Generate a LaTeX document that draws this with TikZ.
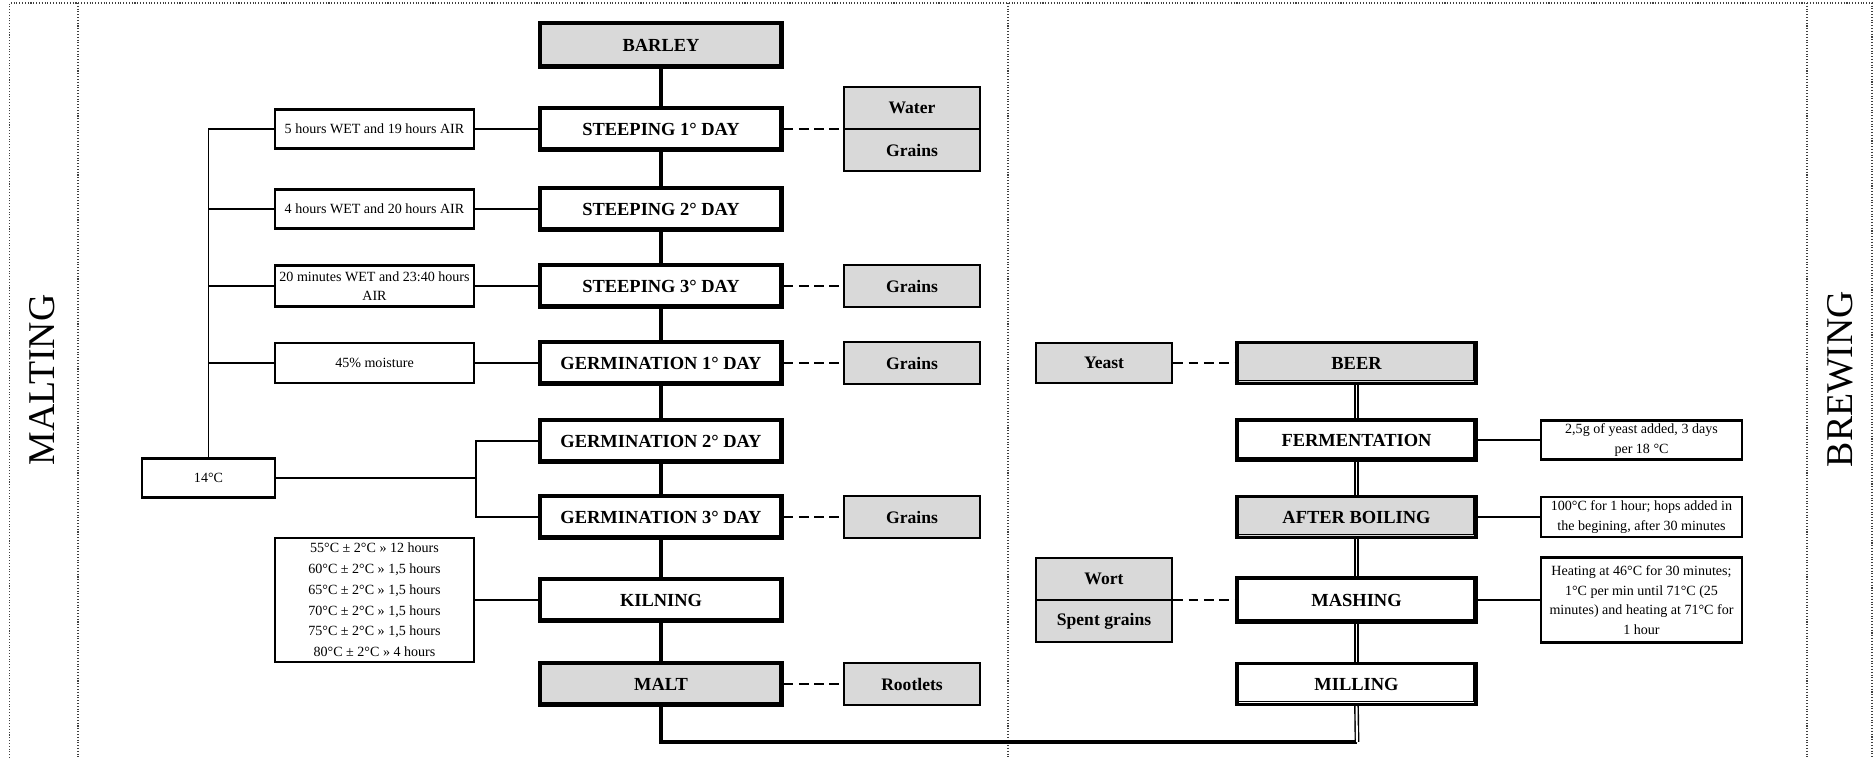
\documentclass[tikz,border=0pt]{standalone}
\usepackage{fontspec}
\setmainfont{Liberation Serif}
\newcommand{\pxu}{0.02cm}
\newcommand{\mainf}{\fontsize{10.5}{12}\selectfont\bfseries}
\newcommand{\sidef}{\fontsize{10}{12}\selectfont\bfseries}
\newcommand{\annf}{\fontsize{8}{11.2}\selectfont}
\newcommand{\kilnf}{\fontsize{8}{11.8}\selectfont}
\newcommand{\bigf}{\fontsize{21.5}{24}\selectfont}
\definecolor{boxgray}{RGB}{217,217,217}
\tikzset{
  frameline/.style={densely dotted, line width=0.6pt, black!75},
  mainbox/.style={draw, line width=1.8pt, minimum width=242*\pxu, minimum height=42*\pxu,
    inner sep=1pt, font=\mainf,
    path picture={\draw[line width=0.5pt]
      ([xshift=-3*\pxu]path picture bounding box.north east) --
      ([xshift=-3*\pxu,yshift=3*\pxu]path picture bounding box.south east) --
      ([yshift=3*\pxu]path picture bounding box.south west);}},
  graymain/.style={mainbox, fill=boxgray},
  sidebox/.style={draw, line width=1.6pt, fill=boxgray, minimum width=136*\pxu,
    minimum height=42*\pxu, inner sep=1pt, font=\sidef},
  annbox/.style={draw, line width=1.6pt, minimum width=199*\pxu, minimum height=39*\pxu,
    inner sep=1pt, align=center, font=\annf},
  rannbox/.style={annbox, minimum width=201*\pxu},
  thickconn/.style={line width=2.2pt},
  thinconn/.style={line width=1pt},
  dashconn/.style={line width=1.3pt, dash pattern=on 5.5pt off 3.2pt},
  dblconn/.style={double, line width=0.8pt, double distance=1.1pt},
  biglabel/.style={rotate=90, font=\bigf, inner sep=0pt}
}
\begin{document}
\begin{tikzpicture}[x=0.02cm, y=-0.02cm]
\useasboundingbox (0,0) rectangle (1874,758);
% frame
\draw[frameline] (9.6,758) -- (9.6,3) -- (1872,3) -- (1872,758);
\draw[frameline] (78,3) -- (78,758);
\draw[frameline] (1008,3) -- (1008,758);
\draw[frameline] (1807,3) -- (1807,758);
\node[biglabel] (malting) at (42,380) {MALTING};
\node[biglabel] (brewing) at (1840,379) {BREWING};

% malting column
\node[graymain, minimum height=44*\pxu] (barley) at (661,45) {BARLEY};
\node[mainbox] (st1) at (661,129) {STEEPING 1° DAY};
\node[mainbox] (st2) at (661,209) {STEEPING 2° DAY};
\node[mainbox] (st3) at (661,286) {STEEPING 3° DAY};
\node[mainbox] (g1) at (661,363) {GERMINATION 1° DAY};
\node[mainbox] (g2) at (661,441) {GERMINATION 2° DAY};
\node[mainbox] (g3) at (661,517) {GERMINATION 3° DAY};
\node[mainbox] (kil) at (661,600) {KILNING};
\node[graymain] (malt) at (661,684) {MALT};

% side products
\node[sidebox] (water) at (912,108) {Water};
\node[sidebox] (grains1) at (912,150) {Grains};
\node[sidebox] (grains3) at (912,286) {Grains};
\node[sidebox] (grains4) at (912,363) {Grains};
\node[sidebox] (grains5) at (912,517) {Grains};
\node[sidebox] (rootlets) at (912,684) {Rootlets};

% left annotations
\node[annbox] (a1) at (374.5,129) {5 hours WET and 19 hours AIR};
\node[annbox] (a2) at (374.5,209) {4 hours WET and 20 hours AIR};
\node[annbox, minimum height=41*\pxu] (a3) at (374.5,286) {20 minutes WET and 23:40 hours\\AIR};
\node[annbox, minimum height=40*\pxu] (a4) at (374.5,363) {45\% moisture};
\node[annbox, minimum width=133*\pxu] (t14) at (208.5,478) {14°C};
\node[annbox, minimum height=124*\pxu, font=\kilnf] (kiln) at (374.5,600)
  {55°C ± 2°C » 12 hours\\60°C ± 2°C » 1,5 hours\\65°C ± 2°C » 1,5 hours\\70°C ± 2°C » 1,5 hours\\75°C ± 2°C » 1,5 hours\\80°C ± 2°C » 4 hours};

% brewing column
\node[graymain, minimum width=239*\pxu, minimum height=41*\pxu] (beer) at (1356.5,363) {BEER};
\node[mainbox, minimum width=239*\pxu, minimum height=40*\pxu] (ferm) at (1356.5,440) {FERMENTATION};
\node[graymain, minimum width=239*\pxu, minimum height=41*\pxu] (boil) at (1356.5,517) {AFTER BOILING};
\node[mainbox, minimum width=239*\pxu, minimum height=44*\pxu] (mash) at (1356.5,600) {MASHING};
\node[mainbox, minimum width=239*\pxu, minimum height=41*\pxu] (mill) at (1356.5,684) {MILLING};

\node[sidebox, minimum height=40*\pxu] (yeast) at (1104,363) {Yeast};
\node[sidebox] (wort) at (1104,579) {Wort};
\node[sidebox] (spent) at (1104,621) {Spent grains};

\node[rannbox] (n1) at (1641.5,440) {2,5g of yeast added, 3 days\\per 18 °C};
\node[rannbox, minimum height=40*\pxu] (n2) at (1641.5,517) {100°C for 1 hour; hops added in\\the begining, after 30 minutes};
\node[rannbox, minimum height=85*\pxu] (n3) at (1641.5,600) {Heating at 46°C for 30 minutes;\\1°C per min until 71°C (25\\minutes) and heating at 71°C for\\1 hour};

% malting connectors
\draw[thickconn] (barley) -- (st1);
\draw[thickconn] (st1) -- (st2);
\draw[thickconn] (st2) -- (st3);
\draw[thickconn] (st3) -- (g1);
\draw[thickconn] (g1) -- (g2);
\draw[thickconn] (g2) -- (g3);
\draw[thickconn] (g3) -- (kil);
\draw[thickconn] (kil) -- (malt);

\draw[dashconn] (st1.east) -- (st1.east -| water.west);
\draw[dashconn] (st3.east) -- (grains3.west);
\draw[dashconn] (g1.east) -- (grains4.west);
\draw[dashconn] (g3.east) -- (grains5.west);
\draw[dashconn] (malt.east) -- (rootlets.west);

\draw[thinconn] (a1.east) -- (st1.west);
\draw[thinconn] (a2.east) -- (st2.west);
\draw[thinconn] (a3.east) -- (st3.west);
\draw[thinconn] (a4.east) -- (g1.west);
\draw[thinconn] (kiln.east) -- (kil.west);
\draw[thinconn] (a1.west) -| (t14.north);
\draw[thinconn] (a2.west) -- (a2.west -| t14.north);
\draw[thinconn] (a3.west) -- (a3.west -| t14.north);
\draw[thinconn] (a4.west) -- (a4.west -| t14.north);
\coordinate (jn) at (476,478);
\draw[thinconn] (t14.east) -- (jn);
\draw[thinconn] (g2.west) -| (jn) |- (g3.west);

% link malt -> milling
\coordinate (bot) at (1357,742);
\draw[thickconn] (malt.south) |- (bot);
\draw[dblconn] (bot) -- (mill.south);

% brewing connectors
\draw[dblconn] (mill) -- (mash);
\draw[dblconn] (mash) -- (boil);
\draw[dblconn] (boil) -- (ferm);
\draw[dblconn] (ferm) -- (beer);
\draw[dashconn] (yeast.east) -- (beer.west);
\draw[dashconn] (mash.west -| wort.east) -- (mash.west);
\draw[thinconn] (ferm.east) -- (n1.west);
\draw[thinconn] (boil.east) -- (n2.west);
\draw[thinconn] (mash.east) -- (n3.west);
\end{tikzpicture}
\end{document}
